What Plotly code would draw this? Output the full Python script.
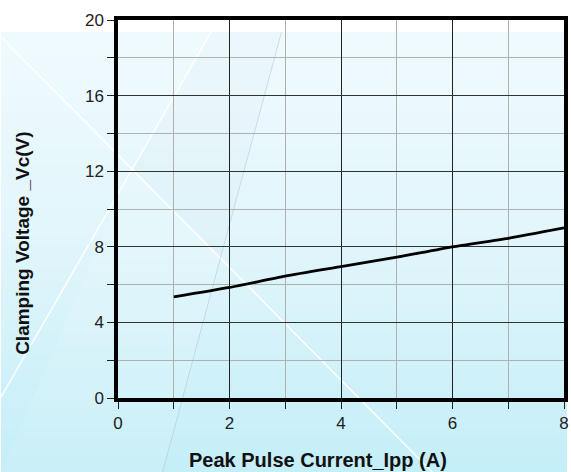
import plotly.graph_objects as go

# ---- data ----
ipp = [1, 2, 3, 4, 5, 6, 7, 8]
vc = [5.35, 5.85, 6.45, 6.95, 7.45, 8.0, 8.45, 9.0]
x_title = "Peak Pulse Current_Ipp (A)"
y_title = "Clamping Voltage _Vc(V)"

W, H = 571, 472
L, R, T, B = 118, 3, 20, 74
PW, PH = W - L - R, H - T - B


def px(xp):
    return (xp - L) / PW


def py(yp):
    return (H - B - yp) / PH


def lerp(c1, c2, t):
    return tuple(round(a + (b - a) * t) for a, b in zip(c1, c2))


shapes = []
# background gradient (below gridlines)
top_c = (240, 250, 254)
mid_c = (226, 246, 251)
bot_c = (196, 238, 248)
y0, y1 = 32, H
n = 60
for i in range(n):
    ya = y0 + (y1 - y0) * i / n
    yb = y0 + (y1 - y0) * (i + 1) / n + 0.6
    t = (i + 0.5) / n
    if t < 0.45:
        c = lerp(top_c, mid_c, t / 0.45)
    else:
        c = lerp(mid_c, bot_c, (t - 0.45) / 0.55)
    shapes.append(dict(type="rect", xref="paper", yref="paper", layer="below",
                       x0=px(0), x1=px(W), y0=py(ya), y1=py(yb),
                       fillcolor="rgb(%d,%d,%d)" % c, line_width=0))

# subtle grey facet
shapes.append(dict(type="path", xref="paper", yref="paper", layer="below",
                   path="M %f %f L %f %f L %f %f L %f %f Z" % (
                       px(212), py(32), px(283), py(32), px(221), py(258), px(132), py(169)),
                   fillcolor="rgba(170,190,205,0.05)", line_width=0))
# light facet below the diagonal
shapes.append(dict(type="path", xref="paper", yref="paper", layer="below",
                   path="M %f %f L %f %f L %f %f L %f %f Z" % (
                       px(132), py(169), px(221), py(258), px(163), py(472), px(0), py(472)),
                   fillcolor="rgba(255,255,255,0.10)", line_width=0))
# white diagonal lines
shapes.append(dict(type="line", xref="paper", yref="paper", layer="below",
                   x0=px(0), y0=py(37), x1=px(435), y1=py(472),
                   line=dict(color="white", width=1.5)))
shapes.append(dict(type="line", xref="paper", yref="paper", layer="below",
                   x0=px(0), y0=py(397), x1=px(212), y1=py(32),
                   line=dict(color="white", width=1.5)))
# faint grey steep line
shapes.append(dict(type="line", xref="paper", yref="paper", layer="below",
                   x0=px(283), y0=py(32), x1=px(163), y1=py(472),
                   line=dict(color="rgba(170,185,205,0.45)", width=1)))

fig = go.Figure()
fig.add_trace(go.Scatter(x=ipp, y=vc, mode="lines",
                         line=dict(color="black", width=2.8, shape="spline", smoothing=0.6),
                         showlegend=False, hoverinfo="skip"))

tickfont = dict(family="Liberation Sans, Arial, sans-serif", size=17, color="#222")
fig.update_xaxes(range=[0, 8], dtick=2, tick0=0, showgrid=True, gridcolor="#222", gridwidth=1.3,
                 showline=True, linecolor="black", linewidth=3.5, mirror=True,
                 ticks="outside", ticklen=7, tickwidth=1, tickcolor="#222", tickfont=tickfont,
                 zeroline=False,
                 minor=dict(dtick=1, tick0=0, showgrid=True, gridcolor="#b0b0b0", gridwidth=1.3,
                            ticks="outside", ticklen=7, tickwidth=1, tickcolor="#222"))
fig.update_yaxes(range=[0, 20], dtick=4, tick0=0, showgrid=True, gridcolor="#333", gridwidth=1.3,
                 showline=True, linecolor="black", linewidth=3.5, mirror=True,
                 ticks="outside", ticklen=7, tickwidth=1, tickcolor="#222", tickfont=tickfont,
                 zeroline=False,
                 minor=dict(dtick=2, tick0=0, showgrid=True, gridcolor="#b0b0b0", gridwidth=1.3,
                            ticks="outside", ticklen=7, tickwidth=1, tickcolor="#222"))

annotations = [
    dict(text="<b>%s</b>" % x_title, xref="paper", yref="paper", x=px(320), y=py(460),
         showarrow=False, xanchor="center", yanchor="middle",
         font=dict(family="Liberation Sans, Arial, sans-serif", size=20, color="#111")),
    dict(text="<b>%s</b>" % y_title, xref="paper", yref="paper", x=px(21), y=py(243),
         showarrow=False, textangle=-90, xanchor="center", yanchor="middle",
         font=dict(family="Liberation Sans, Arial, sans-serif", size=19, color="#111")),
]

fig.update_layout(width=W, height=H, margin=dict(l=L, r=R, t=T, b=B),
                  paper_bgcolor="white", plot_bgcolor="rgba(0,0,0,0)",
                  shapes=shapes, annotations=annotations, showlegend=False)

fig.write_html("out.html", config={"displayModeBar": False},
               post_script="document.body.style.margin='0';document.body.style.overflow='hidden';")
